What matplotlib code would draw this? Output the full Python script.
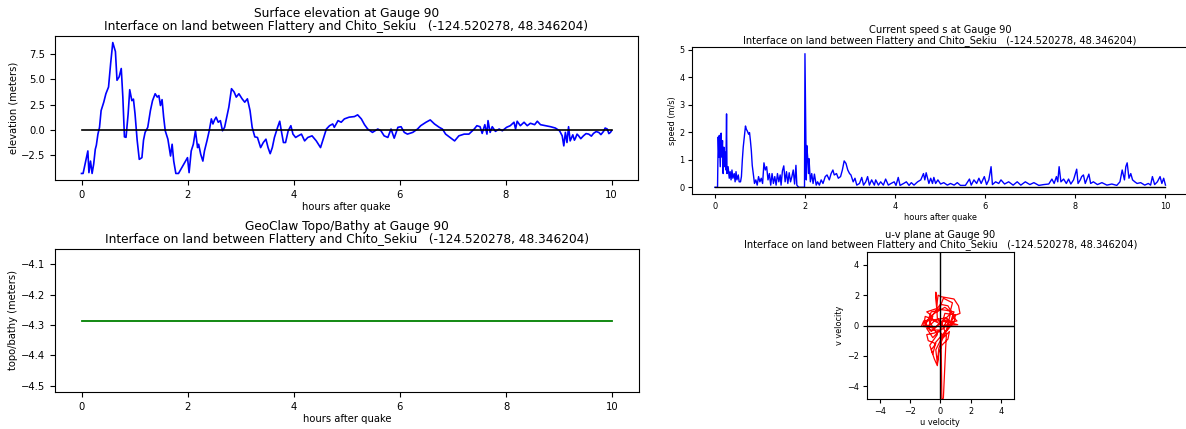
import matplotlib
matplotlib.use("Agg")
import matplotlib.pyplot as plt

# Gauge 90 data
gauge_label = "Interface on land between Flattery and Chito_Sekiu   (-124.520278, 48.346204)"

# surface elevation (hours, meters)
eta_t = [0.0, 0.03, 0.12, 0.14, 0.17, 0.20, 0.23, 0.26, 0.28, 0.31, 0.34, 0.37, 0.42, 0.46,
         0.51, 0.55, 0.59, 0.64, 0.67, 0.71, 0.75, 0.78, 0.81, 0.84, 0.88, 0.91, 0.95, 0.98,
         1.01, 1.05, 1.09, 1.14, 1.17, 1.20, 1.25, 1.30, 1.34, 1.39, 1.43, 1.46, 1.49, 1.52,
         1.55, 1.58, 1.63, 1.68, 1.71, 1.74, 1.78, 1.83, 2.00, 2.03, 2.07, 2.11, 2.15, 2.19,
         2.21, 2.25, 2.29, 2.32, 2.37, 2.41, 2.45, 2.48, 2.51, 2.54, 2.58, 2.62, 2.66, 2.70,
         2.74, 2.78, 2.83, 2.88, 2.92, 2.97, 3.03, 3.08, 3.13, 3.18, 3.22, 3.27, 3.32, 3.38,
         3.43, 3.48, 3.52, 3.56, 3.60, 3.64, 3.70, 3.74, 3.77, 3.81, 3.85, 3.90, 3.95, 3.99,
         4.04, 4.09, 4.15, 4.21, 4.27, 4.35, 4.43, 4.51, 4.55, 4.62, 4.68, 4.74, 4.77, 4.84,
         4.90, 4.96, 5.05, 5.15, 5.21, 5.28, 5.34, 5.40, 5.49, 5.59, 5.65, 5.71, 5.78, 5.84,
         5.90, 5.97, 6.03, 6.09, 6.15, 6.25, 6.34, 6.40, 6.50, 6.58, 6.66, 6.75, 6.81, 6.87,
         6.97, 7.04, 7.12, 7.22, 7.31, 7.41, 7.46, 7.52, 7.56, 7.61, 7.65, 7.67, 7.71, 7.75,
         7.81, 7.88, 7.94, 8.02, 8.09, 8.16, 8.19, 8.22, 8.28, 8.35, 8.41, 8.47, 8.55, 8.60,
         8.66, 8.75, 8.85, 8.94, 9.02, 9.07, 9.10, 9.13, 9.16, 9.19, 9.22, 9.27, 9.30, 9.32,
         9.35, 9.38, 9.42, 9.47, 9.52, 9.57, 9.62, 9.66, 9.71, 9.76, 9.80, 9.85, 9.88, 9.92,
         9.95, 9.98, 10.0]
eta = [-4.28, -4.28, -2.06, -4.2, -3.06, -4.28, -3.35, -1.9, -1.5, -0.4, 0.27, 1.92, 2.75, 3.58,
       4.24, 6.57, 8.63, 7.74, 4.91, 5.24, 6.07, 3.25, -0.67, -0.72, 1.6, 3.98, 2.9, 3.05,
       1.6, -1.0, -2.89, -2.72, -1.0, -0.23, 0.27, 1.92, 2.9, 3.58, 3.25, 3.4, 2.42, 3.0,
       1.27, -0.07, -0.9, -2.56, -1.4, -3.06, -4.28, -4.28, -2.72, -4.2, -2.06, -1.4, -0.07, -1.73,
       -1.4, -2.4, -3.06, -2.06, -1.0, -0.07, 1.1, 0.6, 1.0, 1.27, 0.77, 0.93, -0.07, 0.27,
       1.27, 2.26, 4.08, 3.75, 3.25, 3.58, 3.08, 2.75, 3.08, 1.92, 0.27, -0.67, -0.73, -1.73,
       -1.23, -0.9, -1.73, -2.33, -1.73, -0.73, 0.27, 0.87, -0.07, -1.23, -1.23, -0.07, 0.43, -0.4,
       -0.73, -0.57, -0.4, -1.07, -0.73, -0.57, -1.07, -1.73, -1.07, 0.1, 0.43, 0.6, 0.27, 0.93,
       0.77, 1.1, 1.27, 1.33, 1.5, 1.1, 0.53, 0.1, -0.23, 0.1, -0.07, -0.57, -0.73, 0.1,
       -0.8, 0.27, 0.33, -0.23, -0.4, -0.23, 0.1, 0.43, 0.77, 1.0, 0.6, 0.27, 0.1, -0.4,
       -0.8, -1.07, -0.57, -0.4, -0.4, 0.1, 0.43, 0.33, -0.33, 0.53, -0.4, 0.93, -0.23, 0.33,
       -0.13, 0.1, -0.07, 0.27, 0.43, 0.77, 0.1, 0.87, 0.43, 0.77, 0.43, 0.67, 0.53, 0.87,
       0.53, 0.43, 0.33, 0.2, -0.07, -0.57, -1.56, -0.23, -1.23, 0.33, -1.07, -0.47, -1.0, -0.8,
       -0.4, -0.57, -0.85, -0.57, -0.35, -0.4, -0.6, -0.33, -0.15, -0.23, -0.45, -0.13, 0.2, 0.1,
       -0.35, -0.23, -0.07]

# current speed (hours, m/s)
spd_t = [0.0, 0.06, 0.075, 0.09, 0.10, 0.12, 0.14, 0.155, 0.17, 0.185, 0.20, 0.21, 0.23, 0.245,
         0.26, 0.27, 0.295, 0.32, 0.34, 0.36, 0.38, 0.40, 0.43, 0.45, 0.47, 0.49, 0.52, 0.54,
         0.57, 0.59, 0.61, 0.63, 0.66, 0.68, 0.70, 0.72, 0.75, 0.77, 0.79, 0.81, 0.83, 0.86,
         0.88, 0.91, 0.94, 0.97, 1.00, 1.03, 1.06, 1.09, 1.12, 1.15, 1.18, 1.21, 1.24, 1.27,
         1.30, 1.33, 1.36, 1.39, 1.42, 1.45, 1.47, 1.50, 1.53, 1.56, 1.59, 1.62, 1.65, 1.68,
         1.71, 1.74, 1.77, 1.80, 1.82, 1.86, 1.99, 2.00, 2.03, 2.04, 2.06, 2.08, 2.09, 2.12,
         2.15, 2.18, 2.21, 2.25, 2.28, 2.32, 2.36, 2.40, 2.45, 2.49, 2.54, 2.58, 2.62, 2.65,
         2.70, 2.74, 2.79, 2.83, 2.87, 2.91, 2.95, 2.99, 3.02, 3.07, 3.11, 3.15, 3.21, 3.26,
         3.30, 3.35, 3.39, 3.43, 3.48, 3.54, 3.57, 3.63, 3.68, 3.74, 3.79, 3.85, 3.91, 3.98,
         4.02, 4.07, 4.11, 4.19, 4.25, 4.31, 4.36, 4.42, 4.50, 4.57, 4.63, 4.66, 4.69, 4.72,
         4.75, 4.79, 4.83, 4.86, 4.90, 4.95, 5.01, 5.08, 5.16, 5.23, 5.31, 5.38, 5.45, 5.56,
         5.65, 5.69, 5.75, 5.81, 5.86, 5.91, 5.98, 6.03, 6.08, 6.13, 6.16, 6.23, 6.30, 6.35,
         6.43, 6.52, 6.62, 6.71, 6.79, 6.89, 6.99, 7.08, 7.19, 7.30, 7.41, 7.48, 7.53, 7.58,
         7.61, 7.64, 7.68, 7.74, 7.80, 7.85, 7.90, 7.96, 8.03, 8.06, 8.11, 8.14, 8.18, 8.22,
         8.25, 8.30, 8.34, 8.40, 8.49, 8.59, 8.70, 8.81, 8.92, 8.99, 9.04, 9.09, 9.12, 9.15,
         9.19, 9.23, 9.27, 9.32, 9.37, 9.45, 9.54, 9.62, 9.67, 9.71, 9.76, 9.82, 9.88, 9.92,
         9.96, 10.0]
speed = [0.0, 0.0, 1.83, 1.1, 1.89, 0.75, 1.97, 1.1, 1.7, 0.5, 1.46, 0.75, 1.28, 0.63,
         2.67, 0.5, 0.75, 0.33, 0.57, 0.27, 0.63, 0.33, 0.5, 0.2, 0.57, 0.27, 0.45, 0.2,
         0.2, 0.39, 0.99, 1.46, 1.93, 2.23, 2.11, 2.05, 1.93, 1.99, 1.69, 1.33, 0.8, 0.39,
         0.14, 0.27, 0.08, 0.39, 0.2, 0.33, 0.14, 0.89, 0.63, 0.75, 0.27, 0.5, 0.08, 0.5,
         0.14, 0.39, 0.08, 0.5, 0.2, 0.45, 0.08, 0.6, 0.78, 0.2, 0.57, 0.14, 0.53, 0.2,
         0.39, 0.63, 0.12, 0.8, 0.08, 0.0, 0.0, 4.86, 0.27, 1.52, 1.1, 0.5, 1.04, 0.2,
         0.5, 0.14, 0.48, 0.08, 0.2, 0.08, 0.27, 0.14, 0.39, 0.45, 0.27, 0.5, 0.63, 0.45,
         0.5, 0.33, 0.39, 0.63, 0.96, 0.87, 0.63, 0.5, 0.45, 0.2, 0.33, 0.08, 0.14, 0.36,
         0.08, 0.2, 0.39, 0.08, 0.27, 0.08, 0.27, 0.08, 0.2, 0.08, 0.3, 0.08, 0.14, 0.2,
         0.07, 0.36, 0.07, 0.14, 0.2, 0.07, 0.17, 0.08, 0.2, 0.27, 0.5, 0.27, 0.53, 0.33,
         0.14, 0.33, 0.14, 0.36, 0.14, 0.27, 0.12, 0.17, 0.08, 0.14, 0.08, 0.17, 0.07, 0.07,
         0.3, 0.08, 0.27, 0.14, 0.33, 0.14, 0.39, 0.1, 0.27, 0.75, 0.1, 0.2, 0.14, 0.27,
         0.12, 0.2, 0.08, 0.2, 0.08, 0.2, 0.1, 0.17, 0.07, 0.1, 0.12, 0.3, 0.14, 0.39,
         0.2, 0.75, 0.2, 0.3, 0.14, 0.3, 0.12, 0.27, 0.66, 0.14, 0.27, 0.39, 0.45, 0.14,
         0.27, 0.48, 0.14, 0.2, 0.1, 0.17, 0.08, 0.12, 0.07, 0.2, 0.63, 0.27, 0.75, 0.89,
         0.33, 0.5, 0.27, 0.2, 0.14, 0.17, 0.08, 0.14, 0.08, 0.39, 0.1, 0.2, 0.39, 0.14,
         0.33, 0.08]

# topography at the gauge (constant)
topo_t = [0.0, 10.0]
topo = [-4.285, -4.285]

# velocity components for the u-v plane
u_vel = [0.0, 0.05, 0.1, 0.2, 0.35, 0.4, 0.1, -0.2, -0.3, -0.25, -0.15, 0.05, 0.9, 1.2,
         1.3, 0.8, 1.1, 0.6, 1.15, 0.2, -0.6, -1.1, -1.25, -0.8, -0.5, -0.9, -0.3, 0.4,
         0.9, 0.7, 0.2, -0.4, -0.9, -0.8, -0.3, -0.6, -0.4, -0.2, -0.1, 0.1, 0.5, 0.6,
         0.2, -0.1, -0.7, -1.0, -0.5, 0.0, 0.5, 0.9, 0.5, 0.0, -0.3, -0.2, -0.1, 0.3,
         0.8, 0.4, -0.3, -0.9, -0.5, 0.0, 0.3, 1.0, 0.9, -0.2, -1.0, -1.1, -0.4, 0.6,
         0.8, 0.2, -0.1, -0.6, -0.8, -0.2, -0.7, -0.5, -0.3, 0.4, 0.7, 0.3, -0.4, -1.0,
         -0.6, 0.0, 0.5, 0.2]
v_vel = [0.0, -1.0, -4.85, -4.8, -1.5, -0.6, 0.1, 0.5, 2.2, 1.2, 2.0, 1.9, 1.75, 1.3,
         0.8, 0.6, 0.3, 0.2, 0.05, 0.0, 0.4, 0.3, -0.05, -0.1, 0.6, 0.9, 1.1, 1.0,
         0.9, 0.3, -0.2, -0.5, -0.6, -1.0, -1.2, -1.6, -2.2, -2.65, -1.8, -1.3, -0.9, -0.4,
         -0.8, -0.3, -0.3, 0.1, 0.7, 1.4, 1.3, 0.6, -0.2, -1.0, -1.6, -2.5, -1.5, -0.5,
         0.1, 0.5, 0.4, -0.2, -0.8, -0.3, 0.8, 0.7, 0.2, 0.3, 0.6, 0.0, -0.2, 0.7,
         1.5, 1.8, 1.0, 0.9, 0.4, -0.6, -1.3, -1.9, -1.1, -0.3, 0.9, 1.2, 0.8, 0.2,
         -0.4, 0.2, 0.4, -0.1]
uv_lim = 4.87

W, H = 1186, 429
fig = plt.figure(figsize=(W / 100, H / 100), dpi=100)

big = 8.7
big_tick = 7.2
small = 7.1
small_tick = 5.9

def box(l, t, r, b):
    return [l / W, 1 - b / H, (r - l) / W, (b - t) / H]

# surface elevation
ax1 = fig.add_axes(box(55, 36, 638, 180))
ax1.plot(eta_t, eta, color="b", lw=1.2)
ax1.plot([eta_t[0], eta_t[-1]], [0, 0], color="k", lw=1.2)
ax1.set_title("Surface elevation at Gauge 90\n" + gauge_label, fontsize=big, pad=4,
              linespacing=1.0)
ax1.set_xlabel("hours after quake", fontsize=big_tick, labelpad=2)
ax1.set_ylabel("elevation (meters)", fontsize=big_tick, labelpad=2)
ax1.tick_params(labelsize=big_tick)

# topo/bathy
ax2 = fig.add_axes(box(55, 249, 638.7, 392))
ax2.plot(topo_t, topo, color="g", lw=1.3)
ax2.set_title("GeoClaw Topo/Bathy at Gauge 90\n" + gauge_label, fontsize=big, pad=4,
              linespacing=1.0)
ax2.set_xlabel("hours after quake", fontsize=big_tick, labelpad=2)
ax2.set_ylabel("topo/bathy (meters)", fontsize=big_tick, labelpad=2)
ax2.tick_params(labelsize=big_tick)

# current speed
ax3 = fig.add_axes(box(692.3, 47, 1188, 194))
ax3.plot(spd_t, speed, color="b", lw=1.0)
ax3.plot([spd_t[0], spd_t[-1]], [0, 0], color="k", lw=1.0)
ax3.set_title("Current speed s at Gauge 90\n" + gauge_label, fontsize=small, pad=3,
              linespacing=1.0)
ax3.set_xlabel("hours after quake", fontsize=small_tick, labelpad=2)
ax3.set_ylabel("speed (m/s)", fontsize=small_tick, labelpad=2)
ax3.tick_params(labelsize=small_tick, length=3, pad=2.5)

# u-v plane
ax4 = fig.add_axes(box(866.7, 251.7, 1014, 399.3))
ax4.plot(u_vel, v_vel, color="r", lw=0.9)
ax4.axhline(0, color="k", lw=1.0)
ax4.axvline(0, color="k", lw=1.0)
ax4.set_xlim(-uv_lim, uv_lim)
ax4.set_ylim(-uv_lim, uv_lim)
ax4.set_xticks([-4, -2, 0, 2, 4])
ax4.set_yticks([-4, -2, 0, 2, 4])
ax4.set_title("u-v plane at Gauge 90\n" + gauge_label, fontsize=small, pad=3,
              linespacing=1.0)
ax4.set_xlabel("u velocity", fontsize=small_tick, labelpad=1.5)
ax4.set_ylabel("v velocity", fontsize=small_tick, labelpad=2)
ax4.tick_params(labelsize=small_tick, length=3, pad=2.5)

fig.savefig("out.png", dpi=100)
